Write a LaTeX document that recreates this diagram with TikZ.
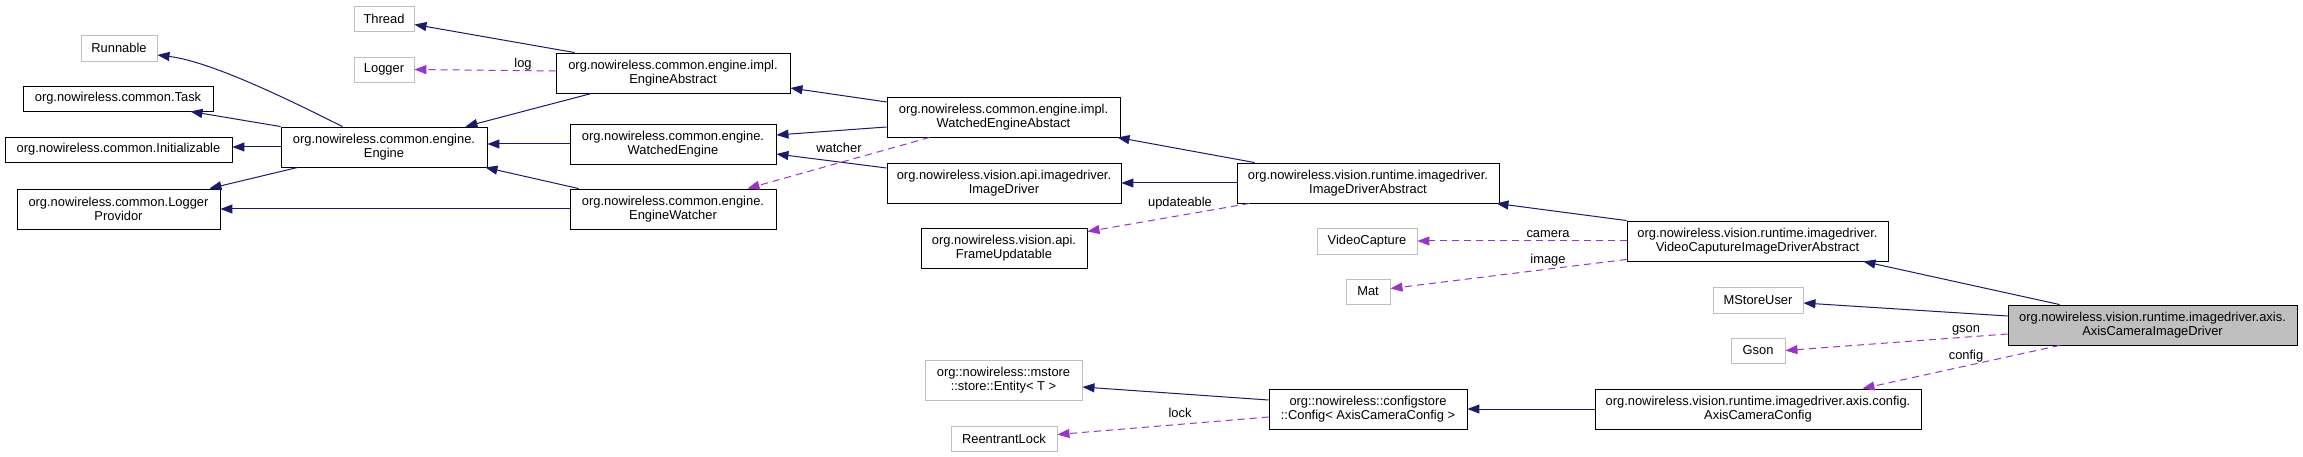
\documentclass[tikz,border=0pt]{standalone}
\usepackage{fontspec}
\setmainfont{Liberation Sans}
\usetikzlibrary{calc,arrows.meta}
\definecolor{inhcol}{HTML}{191970}
\definecolor{usecol}{HTML}{9A32CD}
\definecolor{extcol}{HTML}{BFBFBF}
\begin{document}
\begin{tikzpicture}[x=1pt,y=-1pt,
  box/.style={rectangle, draw=black, line width=0.9pt, fill=white, inner sep=0pt, align=center, font=\fontsize{12.9}{14}\selectfont},
  ext/.style={box, draw=extcol},
  inh/.style={draw=inhcol, line width=1pt, -{Triangle[length=12pt,width=9pt]}},
  use/.style={draw=usecol, line width=1pt, dash pattern=on 7pt off 5pt, -{Triangle[length=12pt,width=9pt]}},
  lbl/.style={anchor=base, inner sep=0pt, font=\fontsize{12.9}{14}\selectfont}]
\fill[white] (0,0) rectangle (2303,457);
\useasboundingbox (0,0) rectangle (2303,457);
% nodes
\node[ext, minimum width=60, minimum height=25] (thread) at (384,18.5) {Thread};
\node[ext, minimum width=76, minimum height=26] (runnable) at (119,48) {Runnable};
\node[ext, minimum width=60, minimum height=25] (logger) at (384,69.5) {Logger};
\node[box, minimum width=234, minimum height=40] (engineabstract) at (673,73) {org.nowireless.common.engine.impl.\\EngineAbstract};
\node[box, minimum width=190, minimum height=25] (task) at (118,98.5) {org.nowireless.common.Task};
\node[box, minimum width=227, minimum height=25] (initializable) at (118.5,149.5) {org.nowireless.common.Initializable};
\node[box, minimum width=206, minimum height=40] (engine) at (384,147) {org.nowireless.common.engine.\\Engine};
\node[box, minimum width=206, minimum height=40] (watchedengine) at (673,144) {org.nowireless.common.engine.\\WatchedEngine};
\node[box, minimum width=203, minimum height=40] (loggerprovidor) at (118.5,209) {org.nowireless.common.Logger\\Providor};
\node[box, minimum width=206, minimum height=40] (enginewatcher) at (673,209) {org.nowireless.common.engine.\\EngineWatcher};
\node[box, minimum width=233, minimum height=40] (wea) at (1003.5,117) {org.nowireless.common.engine.impl.\\WatchedEngineAbstact};
\node[box, minimum width=234, minimum height=40] (imagedriver) at (1004,183) {org.nowireless.vision.api.imagedriver.\\ImageDriver};
\node[box, minimum width=166, minimum height=40] (frameupd) at (1004,248) {org.nowireless.vision.api.\\FrameUpdatable};
\node[box, minimum width=262, minimum height=40] (ida) at (1368,183) {org.nowireless.vision.runtime.imagedriver.\\ImageDriverAbstract};
\node[ext, minimum width=100, minimum height=26] (videocapture) at (1367,241) {VideoCapture};
\node[ext, minimum width=44, minimum height=25] (mat) at (1368,291.5) {Mat};
\node[box, minimum width=261, minimum height=40] (vcida) at (1757.5,241) {org.nowireless.vision.runtime.imagedriver.\\VideoCaputureImageDriverAbstract};
\node[ext, minimum width=90, minimum height=26] (mstoreuser) at (1758,300) {MStoreUser};
\node[ext, minimum width=54, minimum height=25] (gson) at (1758,350.5) {Gson};
\node[box, fill=extcol, minimum width=289, minimum height=40] (axis) at (2152.5,325) {org.nowireless.vision.runtime.imagedriver.axis.\\AxisCameraImageDriver};
\node[ext, minimum width=157, minimum height=40] (entity) at (1003.5,380) {org::nowireless::mstore\\::store::Entity< T >};
\node[ext, minimum width=106, minimum height=25] (rlock) at (1004,438.5) {ReentrantLock};
\node[box, minimum width=198, minimum height=40] (config) at (1368,409) {org::nowireless::configstore\\::Config< AxisCameraConfig >};
\node[box, minimum width=326, minimum height=40] (acc) at (1758,409) {org.nowireless.vision.runtime.imagedriver.axis.config.\\AxisCameraConfig};
% inheritance
\draw[inh] ($(engineabstract.north west)+(19,0)$) -- ($(thread.east)+(0,6)$);
\draw[inh] ($(engine.north west)+(62,0)$) .. controls (305,108) and (215,62) .. ($(runnable.east)+(0,7)$);
\draw[inh] (engine.north west) -- ($(task.south east)+(-23,0)$);
\draw[inh] (engine.west) -- (engine.west -| initializable.east);
\draw[inh] ($(engine.south west)+(17,0)$) -- ($(loggerprovidor.north east)+(-11,0)$);
\draw[inh] ($(engineabstract.south west)+(36,0)$) -- ($(engine.north east)+(-22,0)$);
\draw[inh] (watchedengine.west) -- (watchedengine.west -| engine.east);
\draw[inh] ($(enginewatcher.north west)+(9,0)$) -- ($(engine.south east)+(-2,0)$);
\draw[inh] (enginewatcher.west) -- (enginewatcher.west -| loggerprovidor.east);
\draw[inh] ($(wea.west)+(0,-15)$) -- ($(engineabstract.east)+(0,15)$);
\draw[inh] ($(wea.west)+(0,10)$) -- ($(watchedengine.east)+(0,-9)$);
\draw[inh] ($(imagedriver.west)+(0,-15)$) -- ($(watchedengine.east)+(0,10)$);
\draw[inh] ($(ida.north west)+(18,0)$) -- ($(wea.south east)+(-3,0)$);
\draw[inh] (ida.west) -- (imagedriver.east);
\draw[inh] (vcida.north west) -- ($(ida.south east)+(-3,0)$);
\draw[inh] ($(axis.north west)+(52,0)$) -- ($(vcida.south east)+(-25,0)$);
\draw[inh] ($(axis.west)+(0,-9)$) -- ($(mstoreuser.east)+(0,3)$);
\draw[inh] (acc.west) -- (config.east);
\draw[inh] ($(config.west)+(0,-9)$) -- ($(entity.east)+(0,7)$);
% usage
\draw[use] ($(engineabstract.west)+(0,-2)$) -- (logger.east);
\draw[use] ($(wea.south west)+(43,0)$) -- ($(enginewatcher.north east)+(-29,0)$);
\draw[use] ($(ida.south west)+(13,0)$) -- ($(frameupd.north east)+(0,4)$);
\draw[use] (vcida.west) -- (videocapture.east);
\draw[use] ($(vcida.south west)+(0,-2)$) -- ($(mat.east)+(0,-3)$);
\draw[use] ($(axis.west)+(0,9)$) -- (gson.east);
\draw[use] ($(axis.south west)+(52,0)$) -- ($(acc.north east)+(-59,0)$);
\draw[use] ($(config.west)+(0,8)$) -- ($(rlock.east)+(0,-4)$);
% labels
\node[lbl] (llog) at (523,68) {log};
\node[lbl] (lwatcher) at (839,153) {watcher};
\node[lbl] (lupd) at (1180,207) {updateable};
\node[lbl] (lcamera) at (1548,237) {camera};
\node[lbl] (limage) at (1548,263) {image};
\node[lbl] (lgson) at (1966,332) {gson};
\node[lbl] (lconfig) at (1966,359) {config};
\node[lbl] (llock) at (1180,417) {lock};
\end{tikzpicture}
\end{document}
